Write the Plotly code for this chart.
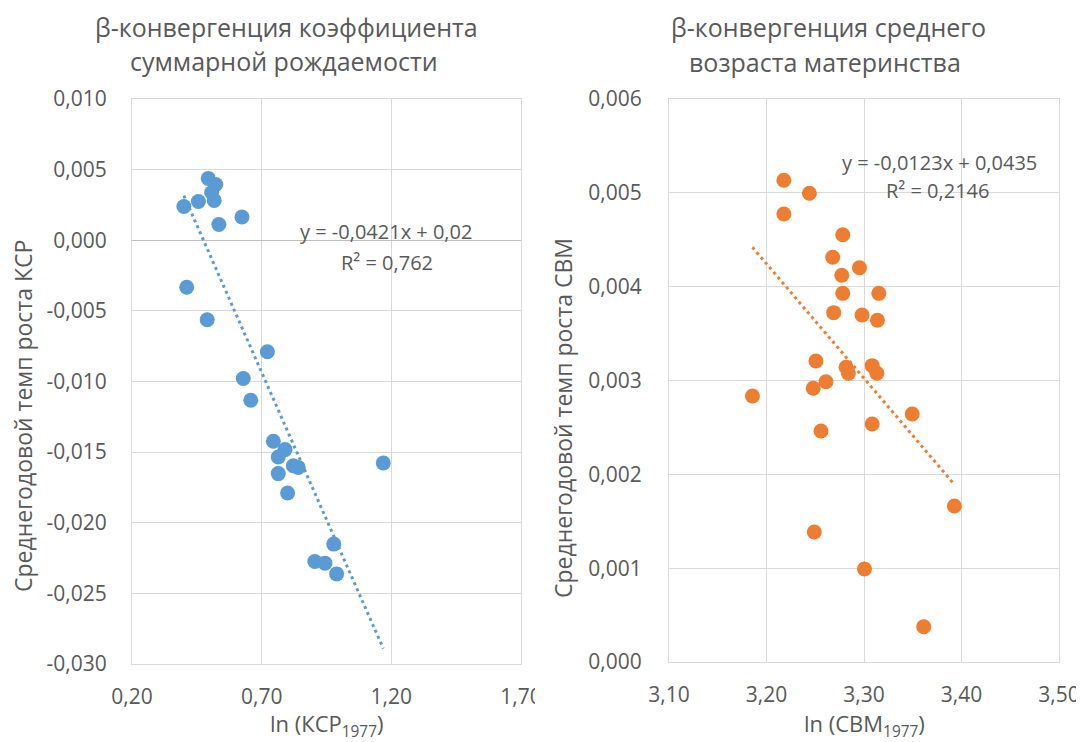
import numpy as np
import plotly.graph_objects as go

# page has an 8px body margin; the figure is sized so that target pixel
# coordinates (in the 1084x742 window) can be used directly below.
OFF = 8
W, H = 1084 - OFF, 742 - OFF

# ---------------- data ----------------
ksr_x = [0.400, 0.456, 0.494, 0.523, 0.507, 0.517, 0.535, 0.624, 0.411, 0.490,
         0.722, 0.629, 0.658, 0.745, 0.790, 0.764, 0.822, 0.841, 0.764, 0.800,
         1.169, 0.978, 0.905, 0.944, 0.989]
ksr_y = [0.00239, 0.00274, 0.00438, 0.00395, 0.00338, 0.00282, 0.00111, 0.00165,
         -0.00333, -0.00563, -0.00789, -0.00979, -0.01133, -0.01423, -0.01482,
         -0.01534, -0.01596, -0.01608, -0.01652, -0.01789, -0.01577, -0.02151,
         -0.02274, -0.02286, -0.02362]

svm_x = [3.2178, 3.2440, 3.2178, 3.2782, 3.2679, 3.2953, 3.2772, 3.2782, 3.3152,
         3.2689, 3.2980, 3.3138, 3.2507, 3.2816, 3.2840, 3.3084, 3.3132, 3.2610,
         3.2479, 3.1856, 3.3495, 3.3084, 3.2559, 3.3927, 3.2490, 3.3005, 3.3612]
svm_y = [0.005134, 0.004995, 0.004775, 0.004554, 0.004313, 0.004202, 0.004121,
         0.003929, 0.003929, 0.003723, 0.003698, 0.003642, 0.003208, 0.003141,
         0.003077, 0.003158, 0.003077, 0.002987, 0.002917, 0.002835, 0.002643,
         0.002537, 0.002462, 0.001663, 0.001386, 0.000991, 0.000376]

left_title = ["β-конвергенция коэффициента", "суммарной рождаемости"]
right_title = ["β-конвергенция среднего", "возраста материнства"]
left_eq = ["y = -0,0421x + 0,02", "R² = 0,762"]
right_eq = ["y = -0,0123x + 0,0435", "R² = 0,2146"]
left_xtitle = "ln (КСР<sub>1977</sub>)"
right_xtitle = "ln (СВМ<sub>1977</sub>)"
left_ytitle = "Среднегодовой темп роста КСР"
right_ytitle = "Среднегодовой темп роста СВМ"

x1_ticks = [0.20, 0.70, 1.20, 1.70]
x1_labels = ["0,20", "0,70", "1,20", "1,70"]
y1_ticks = [0.010, 0.005, 0.000, -0.005, -0.010, -0.015, -0.020, -0.025, -0.030]
y1_labels = ["0,010", "0,005", "0,000", "-0,005", "-0,010", "-0,015", "-0,020", "-0,025", "-0,030"]
x2_ticks = [3.10, 3.20, 3.30, 3.40, 3.50]
x2_labels = ["3,10", "3,20", "3,30", "3,40", "3,50"]
y2_ticks = [0.000, 0.001, 0.002, 0.003, 0.004, 0.005, 0.006]
y2_labels = ["0,000", "0,001", "0,002", "0,003", "0,004", "0,005", "0,006"]

BLUE = "#5B9BD5"
ORANGE = "#ED7D31"
TXT = "#595959"
GRID = "#d9d9d9"
FONT = "Open Sans"


def trend(xs, ys):
    k, b = np.polyfit(xs, ys, 1)
    xx = np.array([min(xs), max(xs)])
    return xx, k * xx + b


fig = go.Figure()

fig.add_trace(go.Scatter(x=ksr_x, y=ksr_y, mode="markers", xaxis="x", yaxis="y",
                         marker=dict(color=BLUE, size=15, line=dict(width=0))))
tx, ty = trend(ksr_x, ksr_y)
fig.add_trace(go.Scatter(x=tx, y=ty, mode="lines", xaxis="x", yaxis="y",
                         line=dict(color=BLUE, width=3, dash="3px,3.5px")))

fig.add_trace(go.Scatter(x=svm_x, y=svm_y, mode="markers", xaxis="x2", yaxis="y2",
                         marker=dict(color=ORANGE, size=15, line=dict(width=0))))
tx2, ty2 = trend(svm_x, svm_y)
fig.add_trace(go.Scatter(x=tx2, y=ty2, mode="lines", xaxis="x2", yaxis="y2",
                         line=dict(color=ORANGE, width=3, dash="3px,3.5px")))


def px(x):
    return (x - OFF) / W


def py(y):
    return 1 - (y - OFF) / H


axis_common = dict(showgrid=True, gridcolor=GRID, gridwidth=1, showline=True,
                   linecolor=GRID, linewidth=1, mirror=True, ticks="",
                   automargin=False,
                   tickfont=dict(family=FONT, size=21, color=TXT))

fig.update_layout(
    template=None,
    width=W, height=H, autosize=False,
    margin=dict(l=0, r=0, t=0, b=0, pad=0, autoexpand=False),
    paper_bgcolor="white", plot_bgcolor="white", showlegend=False,
    font=dict(family=FONT, color=TXT),
    xaxis=dict(domain=[px(132), px(521)], range=[0.2, 1.7], tickvals=x1_ticks,
               ticktext=x1_labels, zeroline=False, anchor="y",
               ticklabelstandoff=14, **axis_common),
    yaxis=dict(domain=[py(664), py(99)], range=[-0.03, 0.01], tickvals=y1_ticks,
               ticktext=y1_labels, zeroline=True, zerolinecolor="#bfbfbf",
               zerolinewidth=1, anchor="x", ticklabelstandoff=20, **axis_common),
    xaxis2=dict(domain=[px(669), px(1059)], range=[3.1, 3.5], tickvals=x2_ticks,
                ticktext=x2_labels, zeroline=False, anchor="y2",
                ticklabelstandoff=14, **axis_common),
    yaxis2=dict(domain=[py(662), py(99)], range=[0, 0.006], tickvals=y2_ticks,
                ticktext=y2_labels, zeroline=False, anchor="x2",
                ticklabelstandoff=22, **axis_common),
)

ann = []


def add_text(text, x, y, size, angle=0):
    ann.append(dict(text=text, x=px(x), y=py(y), xref="paper", yref="paper",
                    xanchor="center", yanchor="middle", showarrow=False,
                    textangle=angle, font=dict(family=FONT, size=size, color=TXT)))


add_text(left_title[0], 286, 27, 25)
add_text(left_title[1], 284, 61, 25)
add_text(right_title[0], 828, 27, 25)
add_text(right_title[1], 825, 62, 25)
add_text(left_eq[0], 386, 231, 20)
add_text(left_eq[1], 387, 262, 20)
add_text(right_eq[0], 939, 162, 20)
add_text(right_eq[1], 937, 190, 20)
add_text(left_xtitle, 326, 725, 22)
add_text(right_xtitle, 864, 725, 22)
add_text(left_ytitle, 23, 416, 23, -90)
add_text(right_ytitle, 563, 418, 23, -90)

fig.update_layout(annotations=ann)

# crop of the left chart's last tick label, as in the source image
fig.add_shape(type="rect", xref="paper", yref="paper", x0=px(535), x1=px(582),
              y0=py(712), y1=py(675), fillcolor="white", line=dict(width=0),
              layer="above")

fig.write_html("out.html")
